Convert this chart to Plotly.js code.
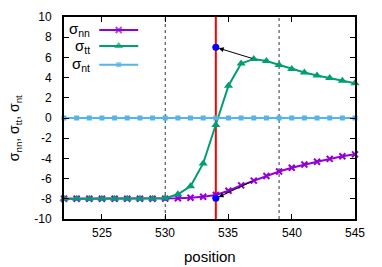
<!DOCTYPE html>
<html>
<head>
<meta charset="utf-8">
<script src="https://cdn.plot.ly/plotly-3.0.1.min.js"></script>
<style>html,body{margin:0;padding:0;background:#fff;}#chart{width:382px;height:267px;}</style>
</head>
<body>
<div id="chart"></div>
<script>
// ---- data ----
var positions = [522,523,524,525,526,527,528,529,530,531,532,533,534,535,536,537,538,539,540,541,542,543,544,545];
var sigmaNN = [-8,-8,-8,-8,-8,-8,-8,-8,-7.98,-7.95,-7.9,-7.8,-7.62,-7.2,-6.67,-6.2,-5.75,-5.3,-4.92,-4.6,-4.33,-4.05,-3.78,-3.6];
var sigmaTT = [-8,-8,-8,-8,-8,-8,-8,-8,-7.95,-7.55,-6.75,-4.5,-0.7,3.2,5.4,5.85,5.65,5.25,4.85,4.5,4.2,3.95,3.7,3.45];
var sigmaNT = [0,0,0,0,0,0,0,0,0,0,0,0,0,0,0,0,0,0,0,0,0,0,0,0];
var seriesNames = ['σ<sub>nn</sub>', 'σ<sub>tt</sub>', 'σ<sub>nt</sub>'];
var seriesColors = ['#9400D3', '#009E73', '#56B4E9'];
var seriesSymbols = ['x-thin', 'triangle-up', 'square'];
var seriesSizes = [6, 8, 5];
var interfacePos = 534;
var dottedPos = [530, 539];
var pointX = [534, 534];
var pointY = [7.0, -7.95];
var arrowFromX = [537, 537];
var arrowFromY = [5.85, -6.2];
var xTickVals = [525, 530, 535, 540, 545];
var xTickText = ['525', '530', '535', '540', '545'];
var yTickVals = [-10,-8,-6,-4,-2,0,2,4,6,8,10];
var yTickText = ['-10','-8','-6','-4','-2','0','2','4','6','8','10'];
var xTitle = 'position';
var yTitle = 'σ<sub>nn</sub>, σ<sub>tt</sub>, σ<sub>nt</sub>';

// ---- build ----
var FONT = 'Liberation Sans, Arial, sans-serif';
var ys = [sigmaNN, sigmaTT, sigmaNT];
var markerLineW = [2, 0, 0];
var traces = [];
for (var i = 0; i < 3; i++) {
  traces.push({
    x: positions, y: ys[i], type: 'scatter', mode: 'lines+markers',
    name: seriesNames[i], showlegend: false, cliponaxis: false,
    line: {color: seriesColors[i], width: 2},
    marker: {color: seriesColors[i], symbol: seriesSymbols[i], size: seriesSizes[i],
             line: {color: seriesColors[i], width: markerLineW[i]}}
  });
}
traces.push({
  x: pointX, y: pointY, type: 'scatter', mode: 'markers', showlegend: false, cliponaxis: false,
  marker: {color: '#0000FF', size: 7, symbol: 'circle'}
});

// manual gnuplot-style legend (text left, sample right) on an overlay axis in fractions
var legRows = [0.936, 0.856, 0.764];
var legLineX = [0.121, 0.255];
var legTextX = 0.097;
var annotations = [];
for (var k = 0; k < 3; k++) {
  traces.push({
    x: [legLineX[0], (legLineX[0] + legLineX[1]) / 2, legLineX[1]],
    y: [legRows[k], legRows[k], legRows[k]],
    xaxis: 'x2', yaxis: 'y2', type: 'scatter', mode: 'lines+markers', showlegend: false, hoverinfo: 'skip',
    line: {color: seriesColors[k], width: 2},
    marker: {color: seriesColors[k], symbol: seriesSymbols[k], size: [0, seriesSizes[k], 0],
             line: {color: seriesColors[k], width: markerLineW[k]}}
  });
  annotations.push({
    xref: 'paper', yref: 'paper', x: legTextX, y: legRows[k], xanchor: 'right', yanchor: 'middle',
    text: seriesNames[k], showarrow: false, font: {family: FONT, size: 15, color: '#000'}
  });
}
// y axis title
annotations.push({
  xref: 'paper', yref: 'paper', x: -0.168, y: 0.45, xanchor: 'center', yanchor: 'middle',
  textangle: -90, text: yTitle, showarrow: false, font: {family: FONT, size: 14, color: '#000'}
});
// x tick labels (gnuplot places them close to the axis)
for (var t = 0; t < xTickVals.length; t++) {
  annotations.push({
    xref: 'x', yref: 'paper', x: xTickVals[t], y: -0.069, xanchor: 'center', yanchor: 'middle',
    text: xTickText[t], showarrow: false, font: {family: FONT, size: 12, color: '#000'}
  });
}
// x axis title
annotations.push({
  xref: 'paper', yref: 'paper', x: 0.5, y: -0.185, xanchor: 'center', yanchor: 'middle',
  text: xTitle, showarrow: false, font: {family: FONT, size: 15, color: '#000'}
});
for (var a = 0; a < pointX.length; a++) {
  annotations.push({
    x: pointX[a], y: pointY[a], xref: 'x', yref: 'y',
    ax: arrowFromX[a], ay: arrowFromY[a], axref: 'x', ayref: 'y',
    text: '', showarrow: true, arrowhead: 2, arrowsize: 1, arrowwidth: 1, arrowcolor: '#000', standoff: 3
  });
}

var shapes = [];
dottedPos.forEach(function (p) {
  shapes.push({type: 'line', xref: 'x', yref: 'paper', x0: p, x1: p, y0: 0, y1: 1, layer: 'below',
               line: {color: '#333', width: 1, dash: 'dot'}});
});
shapes.push({type: 'line', xref: 'x', yref: 'paper', x0: interfacePos, x1: interfacePos, y0: 0, y1: 1, layer: 'below',
             line: {color: '#FF0000', width: 2}});

var layout = {
  width: 382, height: 267,
  margin: {l: 64, r: 27, t: 17, b: 48, pad: 0},
  paper_bgcolor: '#fff', plot_bgcolor: '#fff',
  font: {family: FONT, size: 12, color: '#000'},
  showlegend: false,
  xaxis: {
    range: [522, 545], tickvals: xTickVals, showticklabels: false,
    showgrid: false, zeroline: false, showline: true, mirror: 'ticks', linecolor: '#000', linewidth: 2,
    ticks: 'inside', ticklen: 5, tickwidth: 1, tickcolor: '#000'
  },
  yaxis: {
    range: [-10, 10], tickvals: yTickVals, ticktext: yTickText,
    showgrid: false, zeroline: false, showline: true, mirror: 'ticks', linecolor: '#000', linewidth: 2,
    ticks: 'inside', ticklen: 5, tickwidth: 1, tickcolor: '#000', ticklabelstandoff: 8,
    tickfont: {family: FONT, size: 12, color: '#000'}
  },
  xaxis2: {range: [0, 1], overlaying: 'x', visible: false, fixedrange: true},
  yaxis2: {range: [0, 1], overlaying: 'y', visible: false, fixedrange: true},
  shapes: shapes,
  annotations: annotations
};

Plotly.newPlot('chart', traces, layout, {displayModeBar: false, staticPlot: true});
</script>
</body>
</html>
